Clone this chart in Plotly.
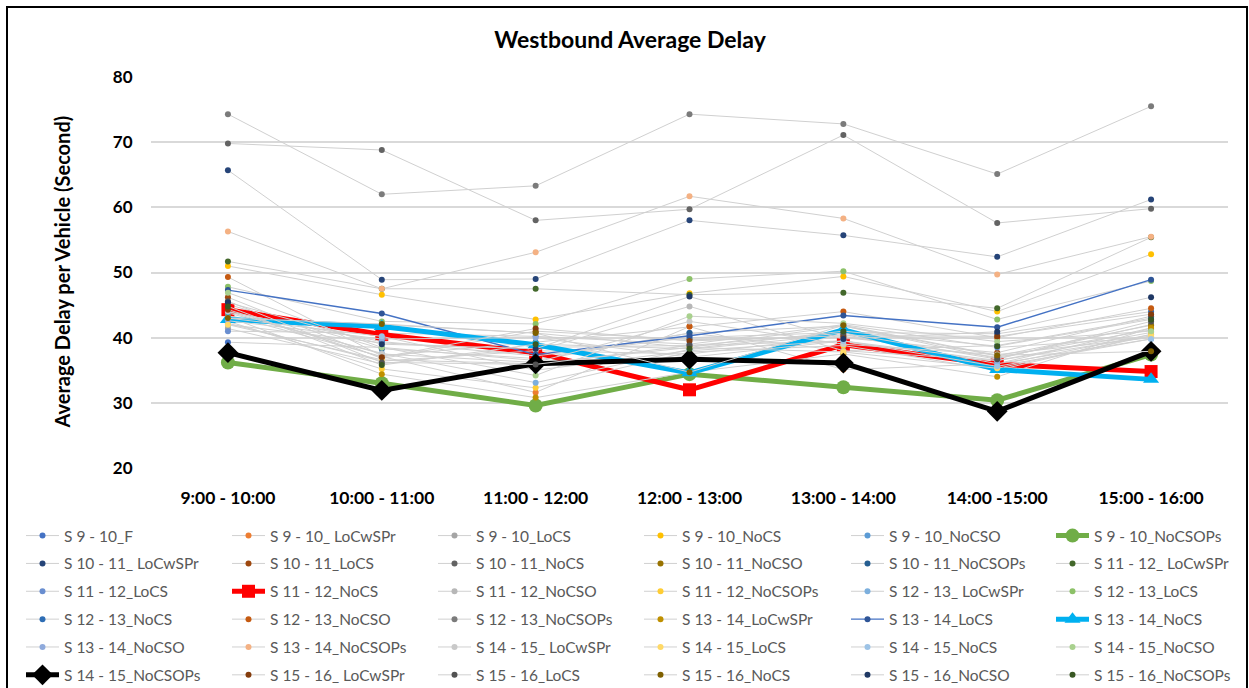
import plotly.graph_objects as go

# Hourly periods on the x axis
periods = ["9:00 - 10:00", "10:00 - 11:00", "11:00 - 12:00", "12:00 - 13:00",
           "13:00 - 14:00", "14:00 -15:00", "15:00 - 16:00"]

# Average delay per vehicle (seconds), one group per simulation window
delays_9_10 = {
    "S 9 - 10_F":         [39.3, 38.5, 36.5, 40.7, 41.8, 36.8, 42.0],
    "S 9 - 10_ LoCwSPr":  [43.5, 37.1, 31.6, 41.7, 35.1, 36.0, 41.5],
    "S 9 - 10_LoCS":      [41.4, 36.0, 38.5, 38.8, 39.5, 35.8, 40.5],
    "S 9 - 10_NoCS":      [51.0, 46.6, 42.8, 46.8, 49.4, 44.0, 52.8],
    "S 9 - 10_NoCSO":     [42.0, 39.2, 38.0, 37.5, 40.2, 37.0, 41.2],
    "S 9 - 10_NoCSOPs":   [36.2, 33.0, 29.6, 34.4, 32.4, 30.4, 37.4],
}
delays_10_11 = {
    "S 10 - 11_ LoCwSPr": [65.7, 48.9, 49.0, 58.0, 55.7, 52.4, 61.2],
    "S 10 - 11_LoCS":     [46.2, 36.8, 41.0, 39.7, 40.0, 37.7, 43.3],
    "S 10 - 11_NoCS":     [69.8, 68.8, 58.0, 59.7, 71.1, 57.6, 59.8],
    "S 10 - 11_NoCSO":    [43.0, 42.0, 40.7, 38.5, 41.8, 37.2, 41.9],
    "S 10 - 11_NoCSOPs":  [45.1, 38.3, 36.8, 40.7, 38.0, 38.8, 43.0],
}
delays_11_12 = {
    "S 11 - 12_ LoCwSPr": [51.7, 47.5, 47.5, 46.6, 46.9, 44.5, 55.4],
    "S 11 - 12_LoCS":     [41.0, 40.7, 40.2, 39.0, 42.0, 38.5, 40.0],
    "S 11 - 12_NoCS":     [44.3, 40.5, 37.7, 32.0, 38.9, 35.9, 34.8],
    "S 11 - 12_NoCSO":    [42.2, 36.4, 38.0, 44.8, 38.0, 36.5, 40.8],
    "S 11 - 12_NoCSOPs":  [42.5, 35.2, 32.3, 37.8, 38.8, 35.0, 40.5],
}
delays_12_13 = {
    "S 12 - 13_ LoCwSPr": [43.8, 37.6, 33.1, 38.2, 40.5, 36.0, 39.8],
    "S 12 - 13_LoCS":     [47.8, 42.5, 42.1, 49.0, 50.2, 42.8, 48.7],
    "S 12 - 13_NoCS":     [44.0, 39.4, 37.2, 40.0, 40.8, 40.6, 44.0],
    "S 12 - 13_NoCSO":    [49.3, 37.2, 39.3, 41.7, 44.0, 40.0, 44.5],
    "S 12 - 13_NoCSOPs":  [74.3, 62.0, 63.3, 74.3, 72.8, 65.1, 75.5],
}
delays_13_14 = {
    "S 13 - 14_LoCwSPr":  [43.2, 34.4, 30.8, 34.7, 37.5, 34.0, 41.5],
    "S 13 - 14_LoCS":     [47.3, 43.7, 37.4, 40.3, 43.4, 41.6, 48.9],
    "S 13 - 14_NoCS":     [42.8, 41.7, 38.9, 34.6, 41.2, 35.1, 33.6],
    "S 13 - 14_NoCSO":    [42.6, 39.8, 40.0, 37.0, 39.5, 36.5, 40.2],
    "S 13 - 14_NoCSOPs":  [56.3, 47.5, 53.1, 61.7, 58.3, 49.7, 55.5],
}
delays_14_15 = {
    "S 14 - 15_ LoCwSPr": [44.0, 37.5, 36.2, 42.5, 39.0, 37.4, 40.0],
    "S 14 - 15_LoCS":     [42.0, 36.6, 36.0, 38.5, 37.8, 35.3, 40.3],
    "S 14 - 15_NoCS":     [43.0, 40.2, 35.0, 38.0, 39.5, 35.6, 39.8],
    "S 14 - 15_NoCSO":    [46.9, 38.5, 34.2, 43.3, 42.2, 39.4, 41.0],
    "S 14 - 15_NoCSOPs":  [37.7, 31.9, 36.0, 36.7, 36.1, 28.7, 37.9],
}
delays_15_16 = {
    "S 15 - 16_ LoCwSPr": [44.3, 37.0, 41.4, 39.5, 40.3, 40.2, 43.6],
    "S 15 - 16_LoCS":     [45.6, 36.2, 35.9, 38.8, 40.7, 36.7, 42.5],
    "S 15 - 16_NoCS":     [43.0, 42.1, 40.7, 34.7, 41.9, 37.3, 37.9],
    "S 15 - 16_NoCSO":    [45.4, 39.0, 38.3, 46.3, 39.8, 40.9, 46.2],
    "S 15 - 16_NoCSOPs":  [44.8, 35.8, 39.0, 38.3, 41.0, 38.7, 42.8],
}

# Office-style marker colours, cycling through accent shades
marker_colors = [
    "#4472C4", "#ED7D31", "#A5A5A5", "#FFC000", "#5B9BD5", "#70AD47",
    "#264478", "#9E480E", "#636363", "#997300", "#255E91", "#43682B",
    "#698ED0", "#F1975A", "#B7B7B7", "#FFCD33", "#7CAFDD", "#8CC168",
    "#2E6DB4", "#C55A11", "#7B7B7B", "#BF9000", "#2F5597", "#548235",
    "#8FAADC", "#F4B183", "#C9C9C9", "#FFD966", "#9DC3E6", "#A9D18E",
    "#203864", "#843C0C", "#525252", "#7F6000", "#1F3864", "#385723",
]

# Emphasised scenarios drawn with thick lines and large markers
highlight = {
    "S 9 - 10_NoCSOPs":  dict(color="#70AD47", symbol="circle", size=14),
    "S 11 - 12_NoCS":    dict(color="#FF0000", symbol="square", size=13),
    "S 13 - 14_NoCS":    dict(color="#00B0F0", symbol="triangle-up", size=14),
    "S 14 - 15_NoCSOPs": dict(color="#000000", symbol="diamond", size=16),
}
thin_colored = {"S 13 - 14_LoCS": "#4472C4"}

all_series = {}
for group in (delays_9_10, delays_10_11, delays_11_12, delays_12_13,
              delays_13_14, delays_14_15, delays_15_16):
    all_series.update(group)

FONT = "Lato"
W, H = 1249, 688
L, R, T, B = 151, 21, 77, 220
PW, PH = W - L - R, H - T - B

def px_to_paper_x(px):
    return (px - L) / PW

def px_to_paper_y(py):
    return (H - B - py) / PH

fig = go.Figure()

n_cols = 6
for i, (name, vals) in enumerate(all_series.items()):
    col = i % n_cols
    legend_id = "legend" if col == 0 else f"legend{col + 1}"
    if name in highlight:
        h = highlight[name]
        line = dict(color=h["color"], width=5)
        marker = dict(color=h["color"], symbol=h["symbol"], size=h["size"])
    else:
        line = dict(color=thin_colored.get(name, "#D0D0D0"),
                    width=1.4 if name in thin_colored else 1)
        marker = dict(color=marker_colors[i], size=6)
    fig.add_trace(go.Scatter(
        x=periods, y=vals, name=name, mode="lines+markers",
        line=line, marker=marker, legend=legend_id, legendgroup=name,
    ))

# Legend grid: six columns, six rows (each entry its own group for even spacing)
col_starts = [27, 233, 439, 645, 852, 1057]
first_row_top = 519
legend_common = dict(
    orientation="v", xanchor="left", yanchor="top",
    font=dict(family=FONT, size=15.5, color="#595959"),
    bgcolor="rgba(0,0,0,0)", borderwidth=0, tracegroupgap=4.7,
    itemwidth=33, traceorder="grouped",
)
layout_legends = {}
for c, xs in enumerate(col_starts):
    key = "legend" if c == 0 else f"legend{c + 1}"
    layout_legends[key] = dict(legend_common,
                               x=px_to_paper_x(xs - 6),
                               y=px_to_paper_y(first_row_top))

fig.update_layout(
    width=W, height=H,
    margin=dict(l=L, r=R, t=T, b=B, autoexpand=False),
    paper_bgcolor="white", plot_bgcolor="white",
    showlegend=True,
    title=dict(text="Westbound Average Delay", xref="container", x=630 / W,
               xanchor="center", yref="container", y=1 - 40 / H, yanchor="middle",
               font=dict(family=FONT, size=23, color="#000000", weight="bold")),
    xaxis=dict(range=[-0.5, 6.5], showgrid=False, zeroline=False, showline=False,
               ticks="outside", ticklen=14, tickcolor="rgba(0,0,0,0)",
               tickfont=dict(family=FONT, size=17.5, color="#000000", weight="bold")),
    yaxis=dict(range=[20, 80], dtick=10, showgrid=True, gridcolor="#D9D9D9",
               gridwidth=1.5, zeroline=False, showline=False,
               ticks="outside", ticklen=14, tickcolor="rgba(0,0,0,0)",
               tickfont=dict(family=FONT, size=17, color="#000000", weight="bold")),
    annotations=[dict(text="Average Delay per Vehicle (Second)", textangle=-90,
                      xref="paper", yref="paper", x=px_to_paper_x(61), y=0.5,
                      xanchor="center", yanchor="middle", showarrow=False,
                      font=dict(family=FONT, size=20, color="#000000", weight="bold"))],
    shapes=[dict(type="rect", xref="paper", yref="paper",
                 x0=px_to_paper_x(7), x1=px_to_paper_x(1247),
                 y0=px_to_paper_y(700), y1=px_to_paper_y(7),
                 line=dict(color="#000000", width=2), layer="below")],
    **layout_legends,
)

fig.write_html("out.html")
